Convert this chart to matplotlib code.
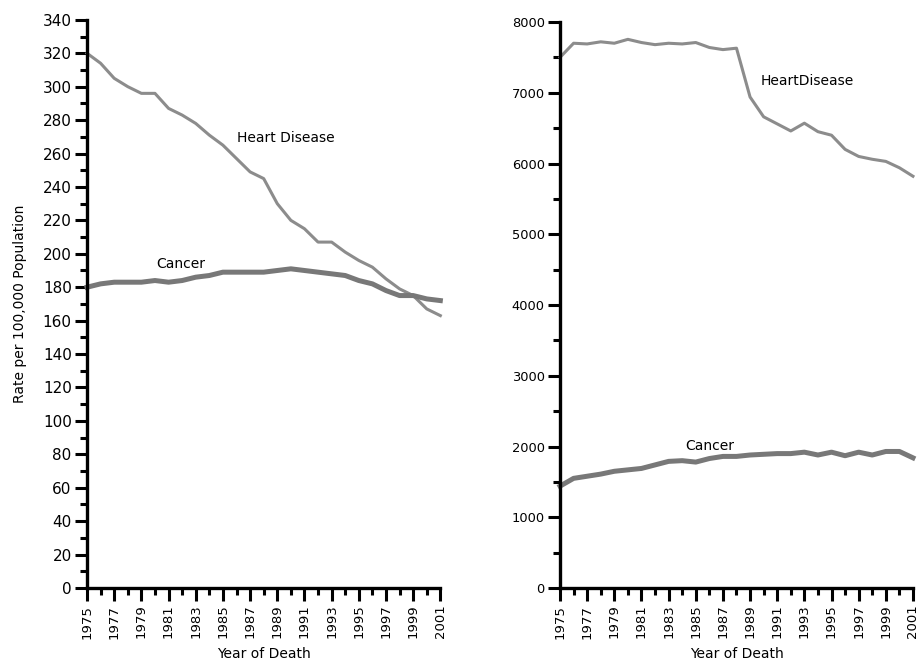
import matplotlib
matplotlib.use("Agg")
import matplotlib.pyplot as plt
from matplotlib.ticker import MultipleLocator

years = list(range(1975, 2002))

# left panel: rate per 100,000
heart_rate = [320, 314, 305, 300, 296, 296, 287, 283, 278, 271, 265, 257, 249, 245,
              230, 220, 215, 207, 207, 201, 196, 192, 185, 179, 175, 167, 163]
cancer_rate = [180, 182, 183, 183, 183, 184, 183, 184, 186, 187, 189, 189, 189, 189,
               190, 191, 190, 189, 188, 187, 184, 182, 178, 175, 175, 173, 172]

# right panel: counts
heart_count = [7500, 7700, 7690, 7720, 7700, 7755, 7710, 7680, 7700, 7690, 7710, 7640,
               7610, 7630, 6940, 6660, 6560, 6460, 6570, 6450, 6400, 6200, 6100, 6060,
               6030, 5940, 5820]
cancer_count = [1440, 1550, 1580, 1610, 1650, 1670, 1690, 1740, 1790, 1800, 1780, 1830,
                1860, 1860, 1880, 1890, 1900, 1900, 1920, 1880, 1920, 1870, 1920, 1880,
                1930, 1930, 1840]

year_ticks = list(range(1975, 2002, 2))

fig = plt.figure(figsize=(9.17, 6.63), dpi=100)
ax1 = fig.add_axes([0.0949, 0.1131, 0.3853, 0.857])
ax2 = fig.add_axes([0.6107, 0.1131, 0.3849, 0.8537])


def style_axis(ax, ymax, major, minor, ysize):
    ax.set_xlim(1975, 2001)
    ax.set_ylim(0, ymax)
    ax.set_xticks(year_ticks)
    ax.xaxis.set_minor_locator(MultipleLocator(1))
    ax.yaxis.set_major_locator(MultipleLocator(major))
    ax.yaxis.set_minor_locator(MultipleLocator(minor))
    for s in ["top", "right"]:
        ax.spines[s].set_visible(False)
    for s in ["left", "bottom"]:
        ax.spines[s].set_linewidth(2.4)
        ax.spines[s].set_capstyle("projecting")
    ax.tick_params(which="major", direction="out", length=9, width=2.2, pad=2)
    ax.tick_params(which="minor", direction="out", length=5, width=2.2)
    ax.tick_params(axis="y", labelsize=ysize)
    ax.tick_params(axis="x", labelsize=9.5, labelrotation=90, pad=3)
    ax.set_xlabel("Year of Death", fontsize=10, labelpad=6)


ax1.plot(years, heart_rate, color="#8c8c8c", lw=2.2, clip_on=False)
ax1.plot(years, cancer_rate, color="#787878", lw=3.6, clip_on=False)
style_axis(ax1, 340, 20, 10, 11)
ax1.set_ylabel("Rate per 100,000 Population", fontsize=10)
ax1.yaxis.set_label_coords(-0.17, 0.5)
ax1.text(1989.65, 269, "Heart Disease", fontsize=10, ha="center", va="center")
ax1.text(1981.9, 194, "Cancer", fontsize=10, ha="center", va="center")

ax2.plot(years, heart_count, color="#8c8c8c", lw=2.2, clip_on=False)
ax2.plot(years, cancer_count, color="#787878", lw=3.6, clip_on=False)
style_axis(ax2, 8000, 1000, 500, 9.4)
ax2.text(1993.2, 7166, "HeartDisease", fontsize=10, ha="center", va="center")
ax2.text(1986.05, 2007, "Cancer", fontsize=10, ha="center", va="center")

fig.savefig("out.png", dpi=100)
